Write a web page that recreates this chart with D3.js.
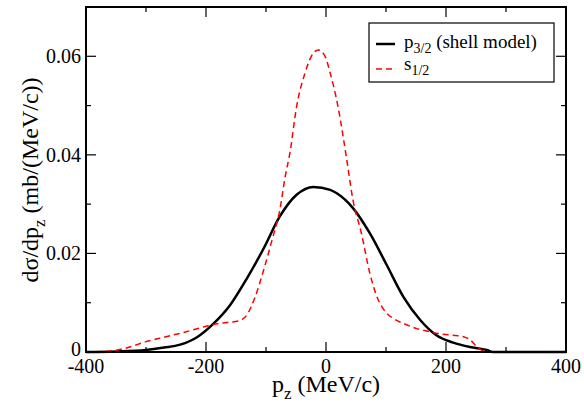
<!DOCTYPE html>
<html><head><meta charset="utf-8">
<script src="https://cdn.jsdelivr.net/npm/d3@7/dist/d3.min.js"></script>
<style>body{margin:0;background:#fff}svg{display:block}</style>
</head><body><svg id="c" width="584" height="405" font-family="Liberation Serif, Times New Roman, DejaVu Serif, serif"></svg>
<script>
const p32X = [-400,-350,-300,-270,-243,-215,-188,-160,-132,-104,-77,-49,-21,7,18,45,73,101,129,157,184,212,240,268,278,300,400];
const p32Y = [0,0.0001,0.0004,0.0009,0.0015,0.003,0.0057,0.0095,0.0149,0.021,0.0275,0.0319,0.0335,0.0329,0.0322,0.0292,0.0241,0.0177,0.0112,0.0065,0.0034,0.0019,0.0010,0.0004,0,0,0];
const s12X = [-400,-360,-330,-300,-270,-243,-215,-188,-165,-146,-132,-118,-104,-90,-77,-68,-60,-49,-35,-24,-13,-2,7,20,34,45,59,73,87,101,115,129,150,173,195,212,229,240,251,262,270,300,400];
const s12Y = [0,0.0002,0.0009,0.0021,0.003,0.0038,0.0047,0.0056,0.006,0.0063,0.0075,0.0112,0.0166,0.0227,0.0288,0.0356,0.0405,0.0498,0.0566,0.0601,0.0613,0.0601,0.0566,0.0498,0.0395,0.0308,0.0241,0.016,0.0106,0.0079,0.0066,0.0058,0.0048,0.0041,0.0036,0.0034,0.0031,0.0025,0.0011,0.0002,0,0,0];
const xTicks = [-400,-200,0,200,400];
const xMinor = [-300,-100,100,300];
const yTicks = [0,0.02,0.04,0.06];
const yMinor = [0.01,0.03,0.05];
const yTickLabels = ["0","0.02","0.04","0.06"];

const svg = d3.select("#c");
const L=86,R=566,T=7,B=352;
const x = d3.scaleLinear().domain([-400,400]).range([L,R]);
const y = d3.scaleLinear().domain([0,0.07]).range([B,T]);

const line = d3.line().x(d=>x(d[0])).y(d=>y(d[1])).curve(d3.curveMonotoneX);
svg.append("path").datum(p32X.map((v,i)=>[v,p32Y[i]])).attr("d",line)
  .attr("fill","none").attr("stroke","#000").attr("stroke-width",2.5);
svg.append("path").datum(s12X.map((v,i)=>[v,s12Y[i]])).attr("d",line)
  .attr("fill","none").attr("stroke","#ff0000").attr("stroke-width",1.5).attr("stroke-dasharray","6,4");

svg.append("rect").attr("x",L).attr("y",T).attr("width",R-L).attr("height",B-T)
  .attr("fill","none").attr("stroke","#000").attr("stroke-width",2);

const tk = svg.append("g").attr("stroke","#000").attr("stroke-width",1.2);
xTicks.forEach(v=>{tk.append("line").attr("x1",x(v)).attr("x2",x(v)).attr("y1",B).attr("y2",B-10);
  tk.append("line").attr("x1",x(v)).attr("x2",x(v)).attr("y1",T).attr("y2",T+10);});
xMinor.forEach(v=>{tk.append("line").attr("x1",x(v)).attr("x2",x(v)).attr("y1",B).attr("y2",B-5);
  tk.append("line").attr("x1",x(v)).attr("x2",x(v)).attr("y1",T).attr("y2",T+5);});
yTicks.forEach(v=>{tk.append("line").attr("y1",y(v)).attr("y2",y(v)).attr("x1",L).attr("x2",L+10);
  tk.append("line").attr("y1",y(v)).attr("y2",y(v)).attr("x1",R).attr("x2",R-10);});
yMinor.forEach(v=>{tk.append("line").attr("y1",y(v)).attr("y2",y(v)).attr("x1",L).attr("x2",L+5);
  tk.append("line").attr("y1",y(v)).attr("y2",y(v)).attr("x1",R).attr("x2",R-5);});

xTicks.forEach(v=>svg.append("text").attr("x",x(v)).attr("y",373).attr("text-anchor","middle")
  .attr("font-size",20).text(v));
yTicks.forEach((v,i)=>svg.append("text").attr("x",81).attr("y",y(v)+7 - (v===0?3:0)).attr("text-anchor","end")
  .attr("font-size",20).text(yTickLabels[i]));

const xl = svg.append("text").attr("x",326).attr("y",392).attr("text-anchor","middle").attr("font-size",24);
xl.append("tspan").text("p");
xl.append("tspan").attr("font-size",17).attr("dy",7).text("z");
xl.append("tspan").attr("dy",-7).text(" (MeV/c)");

const yl = svg.append("text").attr("transform","translate(38,180) rotate(-90)").attr("text-anchor","middle").attr("font-size",24);
yl.append("tspan").text("dσ/dp");
yl.append("tspan").attr("font-size",17).attr("dy",7).text("z");
yl.append("tspan").attr("dy",-7).text(" (mb/(MeV/c))");

svg.append("rect").attr("x",369).attr("y",23).attr("width",185).attr("height",59)
  .attr("fill","#fff").attr("stroke","#000").attr("stroke-width",1.2);
svg.append("line").attr("x1",376).attr("x2",395).attr("y1",44).attr("y2",44).attr("stroke","#000").attr("stroke-width",2.5);
svg.append("line").attr("x1",376).attr("x2",395).attr("y1",69).attr("y2",69).attr("stroke","#ff0000").attr("stroke-width",1.5).attr("stroke-dasharray","6,4");
const t1 = svg.append("text").attr("x",404).attr("y",48).attr("font-size",19);
t1.append("tspan").text("p");
t1.append("tspan").attr("font-size",14).attr("dy",5).text("3/2");
t1.append("tspan").attr("dy",-5).text(" (shell model)");
const t2 = svg.append("text").attr("x",404).attr("y",70).attr("font-size",19);
t2.append("tspan").text("s");
t2.append("tspan").attr("font-size",14).attr("dy",5).text("1/2");
</script></body></html>
